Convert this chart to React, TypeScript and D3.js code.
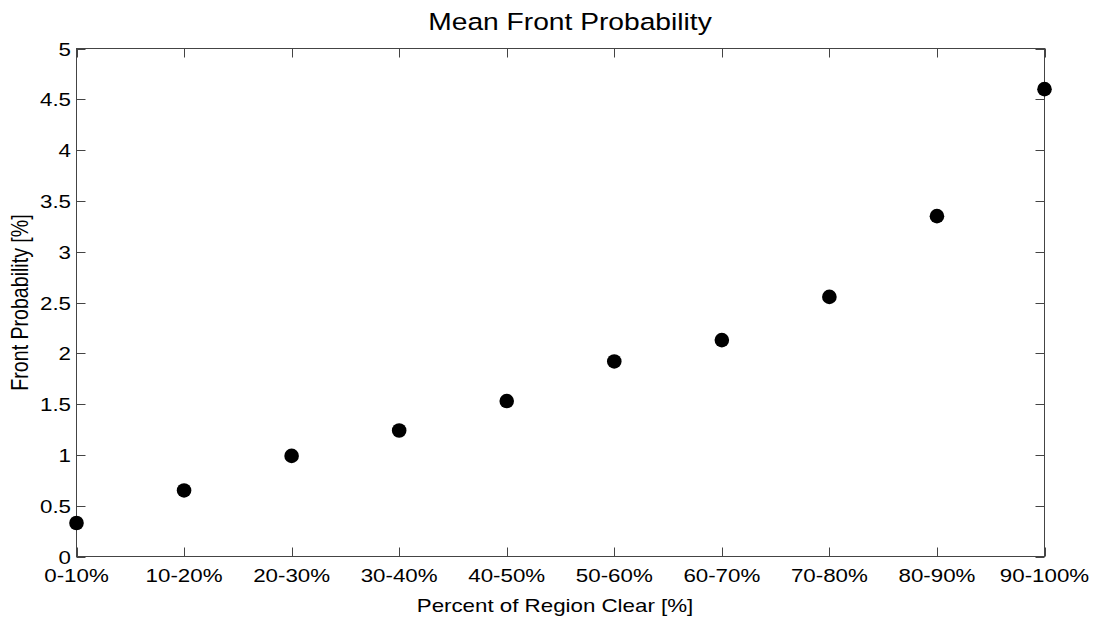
import React, { useEffect, useRef } from 'react';
import * as d3 from 'd3';

const categories = ['0-10%', '10-20%', '20-30%', '30-40%', '40-50%', '50-60%', '60-70%', '70-80%', '80-90%', '90-100%'];
const frontProbability = [0.33, 0.65, 0.99, 1.24, 1.53, 1.92, 2.13, 2.555, 3.35, 4.6];
const yTicks = [0, 0.5, 1, 1.5, 2, 2.5, 3, 3.5, 4, 4.5, 5];

const App = () => {
  const ref = useRef<SVGSVGElement | null>(null);

  useEffect(() => {
    if (!ref.current) return;
    const svg = d3.select(ref.current);
    svg.selectAll('*').remove();

    const width = 1096, height = 621;
    const left = 76.5, right = 1044.5, top = 48.5, bottom = 556.5;
    const sx = 1.2; // text is a bit wider than it is tall
    const font = '"Liberation Sans", Arial, Helvetica, sans-serif';
    const tickLen = 9;

    svg.attr('width', width).attr('height', height);

    const x = d3.scalePoint<string>().domain(categories).range([left, right]).padding(0);
    const y = d3.scaleLinear().domain([0, 5]).range([bottom, top]);

    const g = svg.append('g');

    // box
    g.append('rect')
      .attr('x', left).attr('y', top)
      .attr('width', right - left).attr('height', bottom - top)
      .attr('fill', 'none').attr('stroke', '#444').attr('stroke-width', 1);

    // y ticks, both sides
    yTicks.forEach(t => {
      const yy = Math.round(y(t)) + 0.5;
      g.append('line').attr('x1', left).attr('x2', left + tickLen).attr('y1', yy).attr('y2', yy)
        .attr('stroke', '#444');
      g.append('line').attr('x1', right).attr('x2', right - tickLen).attr('y1', yy).attr('y2', yy)
        .attr('stroke', '#444');
      g.append('text')
        .attr('transform', `translate(71,${y(t) + 7}) scale(${sx},1)`)
        .attr('text-anchor', 'end')
        .attr('font-family', font).attr('font-size', 18.6)
        .text(String(t));
    });

    // x ticks, both sides
    categories.forEach(c => {
      const xx = Math.round(x(c)!) + 0.5;
      g.append('line').attr('x1', xx).attr('x2', xx).attr('y1', bottom).attr('y2', bottom - tickLen)
        .attr('stroke', '#444');
      g.append('line').attr('x1', xx).attr('x2', xx).attr('y1', top).attr('y2', top + tickLen)
        .attr('stroke', '#444');
      g.append('text')
        .attr('transform', `translate(${x(c)},582) scale(${sx},1)`)
        .attr('text-anchor', 'middle')
        .attr('font-family', font).attr('font-size', 18.6)
        .text(c);
    });

    // points
    g.selectAll('circle.pt')
      .data(frontProbability)
      .enter()
      .append('circle')
        .attr('class', 'pt')
        .attr('cx', (d, i) => x(categories[i])!)
        .attr('cy', d => y(d))
        .attr('r', 7.3)
        .attr('fill', '#000');

    // title and axis labels
    svg.append('text')
      .attr('transform', `translate(570,30) scale(${sx},1)`)
      .attr('text-anchor', 'middle')
      .attr('font-family', font).attr('font-size', 23.5)
      .text('Mean Front Probability');

    svg.append('text')
      .attr('transform', `translate(555,612) scale(${sx},1)`)
      .attr('text-anchor', 'middle')
      .attr('font-family', font).attr('font-size', 18.6)
      .text('Percent of Region Clear [%]');

    svg.append('text')
      .attr('transform', `translate(28,${(top + bottom) / 2}) scale(${sx},1) rotate(-90)`)
      .attr('text-anchor', 'middle')
      .attr('font-family', font).attr('font-size', 19.6)
      .text('Front Probability [%]');
  }, []);

  return (
    <svg ref={ref} style={{ position: 'absolute', left: 0, top: 0, background: '#fff' }} />
  );
};

export default App;
